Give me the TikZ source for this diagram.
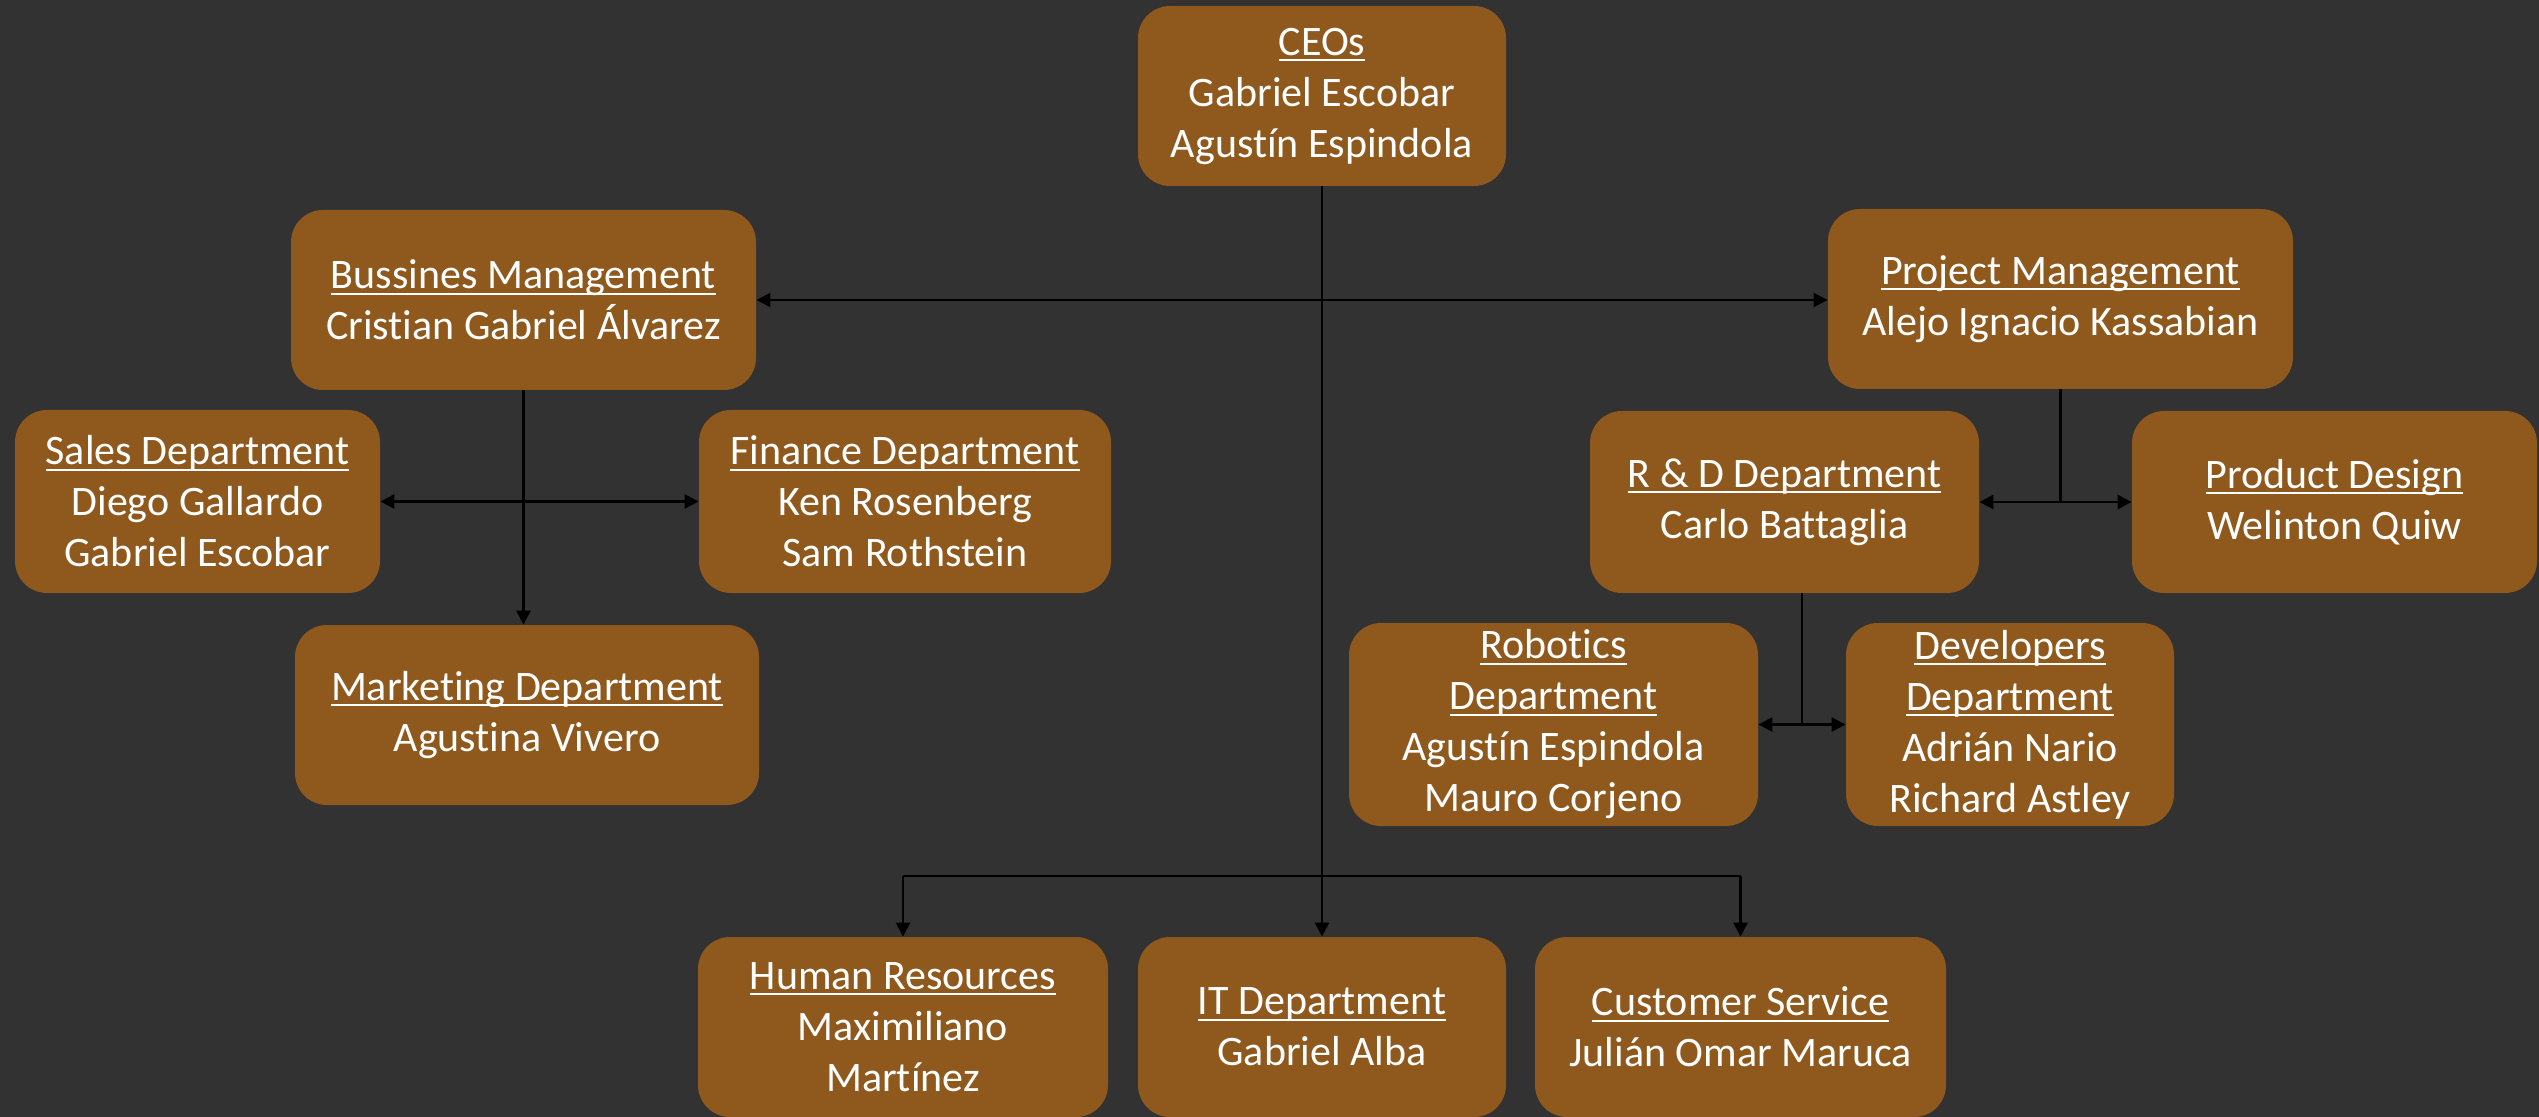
\documentclass[tikz,border=0pt]{standalone}
\usepackage{fontspec}
\setmainfont{Carlito}[Ligatures={NoCommon}]
\usetikzlibrary{arrows.meta}
\definecolor{bgc}{RGB}{50,50,50}
\definecolor{boxc}{RGB}{143,89,30}
\newcommand{\myul}[1]{\setbox0\hbox{#1}\leavevmode\rlap{\rule[-3pt]{\wd0}{1.1pt}}\usebox0}
\tikzset{
  bx/.style 2 args={rounded corners=16pt, fill=boxc, draw=none, text=white,
    align=center, inner sep=0pt, minimum width=#1*0.5pt, minimum height=#2*0.5pt,
    font=\fontsize{21}{25.5}\selectfont},
  conn/.style={draw=black, line width=1.3pt},
  tip/.style={-{Triangle[length=7pt,width=7pt]}},
  dtip/.style={{Triangle[length=7pt,width=7pt]}-{Triangle[length=7pt,width=7pt]}}
}
\begin{document}
\begin{tikzpicture}[x=0.5pt,y=-0.5pt]
\fill[bgc] (0,0) rectangle (2539,1117);
\useasboundingbox (0,0) rectangle (2539,1117);
\node[bx={368}{180}] (ceo) at (1322,96) {\myul{CEOs}\\Gabriel Escobar\\Agustín Espindola};
\node[bx={465}{180}] (bm) at (523.5,300) {\myul{Bussines Management}\\Cristian Gabriel Álvarez};
\node[bx={465}{180}] (pm) at (2060.5,299) {\myul{Project Management}\\Alejo Ignacio Kassabian};
\node[bx={365}{183}] (sales) at (197.5,501.5) {\myul{Sales Department}\\Diego Gallardo\\Gabriel Escobar};
\node[bx={412}{183}] (fin) at (905,501.5) {\myul{Finance Department}\\Ken Rosenberg\\Sam Rothstein};
\node[bx={464}{180}] (mk) at (527,715) {\myul{Marketing Department}\\Agustina Vivero};
\node[bx={389}{182}] (rd) at (1784.5,502) {\myul{R \& D Department}\\Carlo Battaglia};
\node[bx={405}{182}] (pd) at (2334.5,502) {\myul{Product Design}\\Welinton Quiw};
\node[bx={409}{203}] (rob) at (1553.5,724.5) {\myul{Robotics}\\\myul{Department}\\Agustín Espindola\\Mauro Corjeno};
\node[bx={328}{203}] (dev) at (2010,724.5) {\myul{Developers}\\\myul{Department}\\Adrián Nario\\Richard Astley};
\node[bx={410}{180}] (hr) at (903,1027) {\myul{Human Resources}\\Maximiliano\\Martínez};
\node[bx={368}{180}] (it) at (1322,1027) {\myul{IT Department}\\Gabriel Alba};
\node[bx={411}{180}] (cs) at (1740.5,1027) {\myul{Customer Service}\\Julián Omar Maruca};

% CEO trunk
\draw[conn,tip] (ceo.south) -- (it.north);
\draw[conn,dtip] (bm.east) -- (bm.east -| pm.west);
\coordinate (jb) at (1322,876);
\draw[conn] (hr.north |- jb) -- (cs.north |- jb);
\draw[conn,tip] (hr.north |- jb) -- (hr.north);
\draw[conn,tip] (cs.north |- jb) -- (cs.north);
% Business management
\draw[conn,tip] (bm.south) -- (bm.south |- mk.north);
\draw[conn,dtip] (sales.east) -- (fin.west);
% Project management
\draw[conn] (pm.south) -- (pm.south |- rd.east);
\draw[conn,dtip] (rd.east) -- (pd.west);
% R&D
\coordinate (jr) at (1802,724.5);
\draw[conn] (jr |- rd.south) -- (jr);
\draw[conn,dtip] (rob.east) -- (dev.west);
\end{tikzpicture}
\end{document}
